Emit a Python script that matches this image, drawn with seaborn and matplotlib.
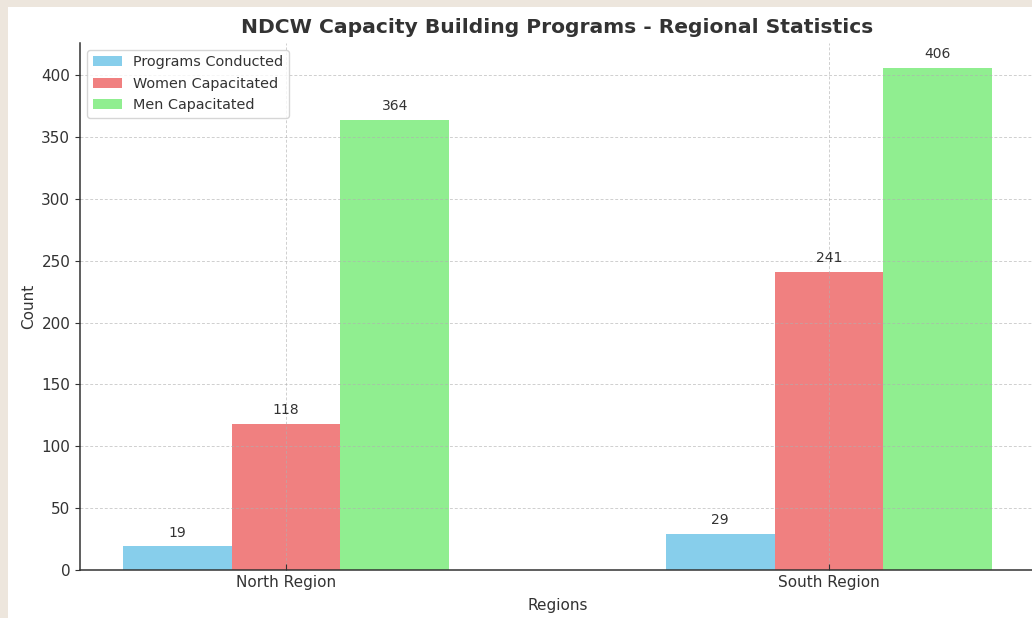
import matplotlib.pyplot as plt
import pandas as pd
import seaborn as sns
from matplotlib.patches import Rectangle

# Data
regions = ["North Region", "South Region"]
programs_conducted = [19, 29]
women_capacitated = [118, 241]
men_capacitated = [364, 406]
series = ["Programs Conducted", "Women Capacitated", "Men Capacitated"]
colors = ["#87CEEB", "#F08080", "#90EE90"]

df = pd.DataFrame({
    "Region": regions * 3,
    "Metric": [s for s in series for _ in regions],
    "Count": programs_conducted + women_capacitated + men_capacitated,
})

sns.set_style("ticks")
plt.rcParams["font.family"] = ["DejaVu Sans"]
plt.rcParams["text.color"] = "#333333"
plt.rcParams["axes.labelcolor"] = "#333333"
plt.rcParams["xtick.color"] = "#333333"
plt.rcParams["ytick.color"] = "#333333"

fig = plt.figure(figsize=(10.32, 6.18), dpi=100, facecolor="#EDE6DD")
# white card on the beige page
fig.add_artist(Rectangle((8 / 1032, 0), 1, (618 - 7) / 618,
                         transform=fig.transFigure, facecolor="white",
                         edgecolor="none", zorder=-1))
ax = fig.add_axes([80 / 1032, 48 / 618, 955 / 1032, 527.5 / 618])

sns.barplot(data=df, x="Region", y="Count", hue="Metric", hue_order=series,
            order=regions, palette=colors, saturation=1, width=0.6,
            linewidth=0, ax=ax)

for cont in ax.containers:
    ax.bar_label(cont, padding=5, fontsize=10, color="#333333")

ax.set_xlim(-0.38, 1.38)
ax.set_ylim(0, 426.3)
ax.set_axisbelow("line")
ax.grid(True, linestyle=(0, (3, 2)), color="#b0b0b0", linewidth=0.7, alpha=0.6)

ax.set_title("NDCW Capacity Building Programs - Regional Statistics",
             fontsize=14.6, fontweight="bold", color="#333333", pad=7)
ax.set_xlabel("Regions", fontsize=11, labelpad=6)
ax.set_ylabel("Count", fontsize=11)
ax.tick_params(axis="x", direction="in", length=4, labelsize=11)
ax.tick_params(axis="y", direction="out", length=3.5, labelsize=11)
for side in ["left", "bottom"]:
    ax.spines[side].set_color("#333333")
    ax.spines[side].set_linewidth(1.1)
sns.despine(ax=ax)

sns.move_legend(ax, "upper left", title=None, fontsize=10.4, frameon=True)
ax.get_legend().get_frame().set_edgecolor("#cccccc")

fig.savefig("out.png", dpi=100, facecolor=fig.get_facecolor())
